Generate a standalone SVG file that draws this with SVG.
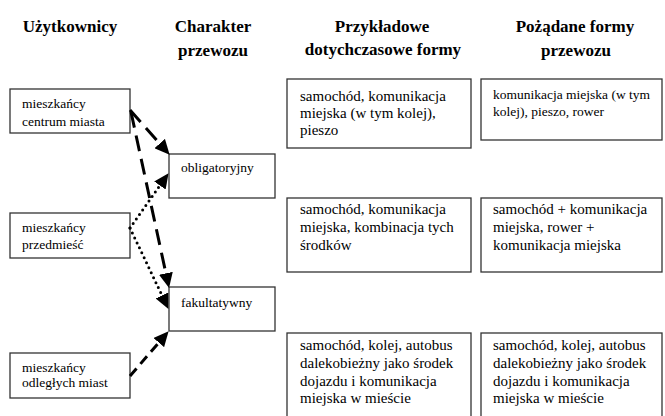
<svg xmlns="http://www.w3.org/2000/svg" width="665" height="416" viewBox="0 0 665 416" font-family="'Liberation Serif', 'Tinos', 'Times New Roman', 'DejaVu Serif', serif">
<style>
text{font-family:'Liberation Serif','Tinos','Times New Roman','DejaVu Serif',serif;fill:#000}
.h{font-size:17px;font-weight:bold;text-anchor:middle}
.t{font-size:15px}
.s{font-size:13.5px}
rect.b{fill:#fff;stroke:#333;stroke-width:1.3}
.c{fill:none;stroke:#000}
.ld{stroke-width:3;stroke-dasharray:16 8}
.dt{stroke-width:3;stroke-dasharray:0 5.5;stroke-linecap:round}
.sd{stroke-width:3;stroke-dasharray:10 6}
</style>
<defs>
<marker id="ah" markerUnits="userSpaceOnUse" markerWidth="16" markerHeight="14" refX="0" refY="7" orient="auto" viewBox="0 0 16 14">
<path d="M0,0 L15,7 L0,14 z" fill="#000"/>
</marker>
<clipPath id="c2"><rect x="10" y="213" width="121" height="40"/></clipPath>
<clipPath id="c3"><rect x="10" y="353" width="121" height="37"/></clipPath>
</defs>
<g id="headers">
<text class="h" x="70" y="32">Użytkownicy</text>
<text class="h" x="213" y="32">Charakter</text>
<text class="h" x="213" y="56">przewozu</text>
<text class="h" x="382" y="32">Przykładowe</text>
<text class="h" x="383" y="55">dotychczasowe formy</text>
<text class="h" x="575" y="32">Pożądane formy</text>
<text class="h" x="576" y="56">przewozu</text>
</g>
<g id="u1"><rect class="b" x="10" y="89" width="120" height="44"/>
<text class="s" x="22" y="108">mieszkańcy</text><text class="s" x="22" y="126">centrum miasta</text></g>
<g id="u2"><rect class="b" x="10" y="213" width="120" height="45"/>
<g clip-path="url(#c2)"><text class="s" x="22" y="232">mieszkańcy</text><text class="s" x="22" y="249">przedmieść</text></g></g>
<g id="u3"><rect class="b" x="10" y="353" width="120" height="45"/>
<g clip-path="url(#c3)"><text class="s" x="22" y="372">mieszkańcy</text><text class="s" x="22" y="387">odległych miast</text></g></g>
<g id="obl"><rect class="b" x="169" y="154" width="106" height="44"/>
<text class="s" x="181" y="172">obligatoryjny</text></g>
<g id="fak"><rect class="b" x="169" y="287" width="106" height="44"/>
<text class="s" x="181" y="307">fakultatywny</text></g>
<g id="p1"><rect class="b" x="287" y="79" width="184" height="69"/>
<text class="t" x="300" y="101">samochód, komunikacja</text><text class="t" x="300" y="118">miejska (w tym kolej),</text><text class="t" x="300" y="135">pieszo</text></g>
<g id="d1"><rect class="b" x="481" y="79" width="181" height="61"/>
<text class="s" x="493" y="99">komunikacja miejska (w tym</text><text class="s" x="493" y="116">kolej), pieszo, rower</text></g>
<g id="p2"><rect class="b" x="287" y="198" width="184" height="74"/>
<text class="t" x="300" y="214">samochód, komunikacja</text><text class="t" x="300" y="232">miejska, kombinacja tych</text><text class="t" x="300" y="250">środków</text></g>
<g id="d2"><rect class="b" x="481" y="198" width="181" height="74"/>
<text class="t" x="493" y="214">samochód + komunikacja</text><text class="t" x="493" y="232">miejska, rower +</text><text class="t" x="493" y="250">komunikacja miejska</text></g>
<g id="p3"><rect class="b" x="287" y="333" width="184" height="90"/>
<text class="t" x="300" y="350">samochód, kolej, autobus</text><text class="t" x="300" y="368">dalekobieżny jako środek</text><text class="t" x="300" y="386">dojazdu i komunikacja</text><text class="t" x="300" y="403">miejska w mieście</text></g>
<g id="d3"><rect class="b" x="481" y="333" width="181" height="90"/>
<text class="t" x="493" y="350">samochód, kolej, autobus</text><text class="t" x="493" y="368">dalekobieżny jako środek</text><text class="t" x="493" y="386">dojazdu i komunikacja</text><text class="t" x="493" y="403">miejska w mieście</text></g>
<g id="connectors">
<path class="c ld" d="M130,110 L159.7,143.5" marker-end="url(#ah)"/>
<path class="c ld" d="M131,112 L165.9,273.3" marker-end="url(#ah)"/>
<path class="c dt" d="M130,228 L159.9,185.5" marker-end="url(#ah)"/>
<path class="c dt" d="M130,228 L162,295.4" marker-end="url(#ah)"/>
<path class="c sd" d="M130,376 L158.8,342.6" marker-end="url(#ah)"/>
</g>
</svg>
